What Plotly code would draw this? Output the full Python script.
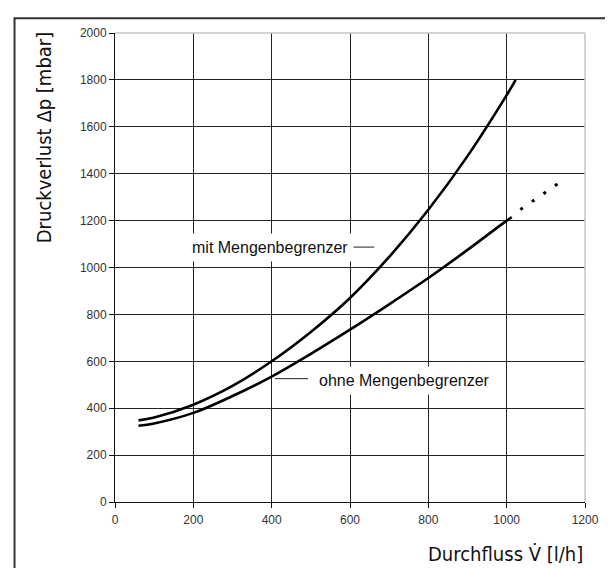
import plotly.graph_objects as go

# Data
flow_mit = [60, 100, 200, 300, 400, 500, 600, 700, 800, 900, 1000, 1023]
dp_mit = [348, 360, 415, 495, 600, 725, 870, 1045, 1246, 1475, 1735, 1800]

flow_ohne = [60, 100, 200, 300, 400, 500, 600, 700, 800, 900, 1000, 1013]
dp_ohne = [325, 335, 380, 452, 535, 632, 735, 843, 955, 1075, 1200, 1215]

flow_ohne_ext = [1035, 1140]
dp_ohne_ext = [1247, 1368]

x_ticks = [0, 200, 400, 600, 800, 1000, 1200]
y_ticks = [0, 200, 400, 600, 800, 1000, 1200, 1400, 1600, 1800, 2000]

label_mit = "mit Mengenbegrenzer"
label_ohne = "ohne Mengenbegrenzer"
title_x = "Durchfluss V\u0307 [l/h]"
title_y = "Druckverlust \u0394p [mbar]"

TITLE_FONT = "DejaVu Sans Condensed, DejaVu Sans, sans-serif"
TICK_FONT = "Liberation Sans, Arial, sans-serif"

fig = go.Figure()
fig.add_trace(go.Scatter(x=flow_mit, y=dp_mit, mode="lines",
                         line=dict(color="black", width=2.6, shape="spline"),
                         showlegend=False, hoverinfo="skip"))
fig.add_trace(go.Scatter(x=flow_ohne, y=dp_ohne, mode="lines",
                         line=dict(color="black", width=2.6, shape="spline"),
                         showlegend=False, hoverinfo="skip"))
fig.add_trace(go.Scatter(x=flow_ohne_ext, y=dp_ohne_ext, mode="lines",
                         line=dict(color="black", width=3, dash="3px,11px"),
                         showlegend=False, hoverinfo="skip"))

fig.update_layout(
    width=613, height=568,
    margin=dict(l=107, r=36, t=25, b=74),
    paper_bgcolor="white", plot_bgcolor="white",
    font=dict(family=TICK_FONT, size=12, color="#333"),
    xaxis=dict(range=[0, 1200], tickvals=x_ticks, showgrid=True,
               gridcolor="#222", gridwidth=1, zeroline=False,
               showline=True, linecolor="#111", linewidth=1,
               ticks="outside", ticklen=5, tickcolor="#111",
               ticklabelstandoff=2,
               tickfont=dict(family=TICK_FONT, size=12, color="#333")),
    yaxis=dict(range=[0, 2000], tickvals=y_ticks, showgrid=True,
               gridcolor="#222", gridwidth=1, zeroline=False,
               showline=True, linecolor="#111", linewidth=1,
               ticks="outside", ticklen=5, tickcolor="#111",
               tickfont=dict(family=TICK_FONT, size=12, color="#333")),
)

# light grey top and right plot-frame edges
fig.add_shape(type="line", xref="paper", yref="paper", x0=0, x1=1, y0=1, y1=1,
              line=dict(color="#c4c4c4", width=1.5), layer="above")
fig.add_shape(type="line", xref="paper", yref="paper", x0=1, x1=1, y0=0, y1=1,
              line=dict(color="#c4c4c4", width=1.5), layer="above")

# outer frame of the figure
fig.add_shape(type="rect", xref="paper", yref="paper",
              x0=-0.2138, x1=1.1, y0=1.0313, y1=-0.2,
              line=dict(color="#333", width=2), layer="above")

# curve labels with white boxes and leader lines
fig.add_annotation(x=181, y=1087, xref="x", yref="y", text=label_mit,
                   showarrow=False, xanchor="left", yanchor="middle",
                   bgcolor="white", borderpad=5,
                   font=dict(family=TICK_FONT, size=16, color="#111"))
fig.add_shape(type="line", xref="x", yref="y", x0=605, x1=662, y0=1087, y1=1087,
              line=dict(color="#222", width=1), layer="above")

fig.add_annotation(x=505, y=520, xref="x", yref="y", text=label_ohne,
                   showarrow=False, xanchor="left", yanchor="middle",
                   bgcolor="white", borderpad=5,
                   font=dict(family=TICK_FONT, size=16, color="#111"))
fig.add_shape(type="line", xref="x", yref="y", x0=408, x1=493, y0=526, y1=526,
              line=dict(color="#222", width=1), layer="above")

# axis titles
fig.add_annotation(x=-0.1511, y=0.7777, xref="paper", yref="paper", text=title_y,
                   textangle=-90, showarrow=False, xanchor="center", yanchor="middle",
                   font=dict(family=TITLE_FONT, size=20, color="#111"))
fig.add_annotation(x=1.0, y=-0.1108, xref="paper", yref="paper", text=title_x,
                   showarrow=False, xanchor="right", yanchor="middle",
                   font=dict(family=TITLE_FONT, size=20, color="#111"))

fig.write_html("out.html")
